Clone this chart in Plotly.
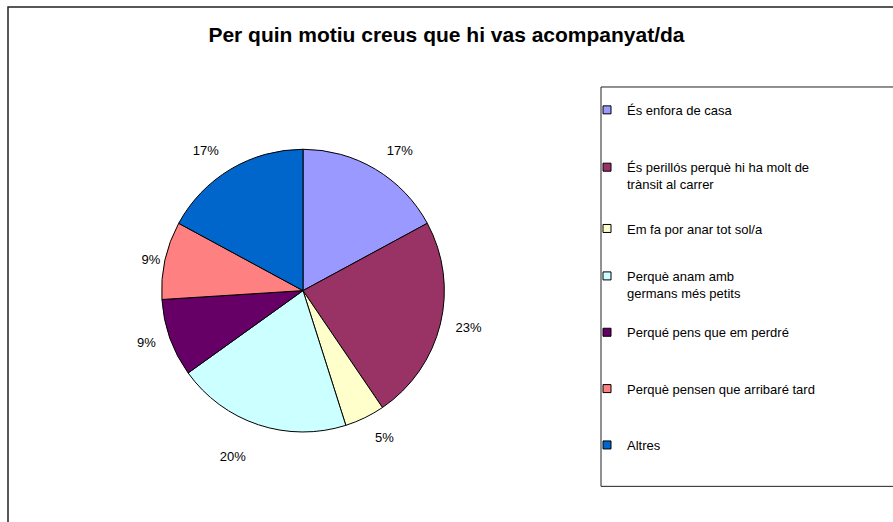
import plotly.graph_objects as go

W, H = 893, 522

title = "Per quin motiu creus que hi vas acompanyat/da"
categories = [
    "És enfora de casa",
    "És perillós perquè hi ha molt de<br>trànsit al carrer",
    "Em fa por anar tot sol/a",
    "Perquè anam amb<br>germans més petits",
    "Perqué pens que em perdré",
    "Perquè pensen que arribaré tard",
    "Altres",
]
values = [17.1, 23.4, 4.6, 20.0, 8.9, 8.9, 17.1]
colors = ["#9999FF", "#993366", "#FFFFCC", "#CCFFFF", "#660066", "#FF8080", "#0066CC"]
legend_first_line_y = [112, 170, 232, 280, 337, 394, 451]
# per-slice outward offset of the percentage labels (fraction of base label radius)
label_pull = [0.101, 0.080, 0.101, 0.185, 0.07, 0.0, 0.101]

FONT = "Liberation Sans, Arial, sans-serif"

# pie geometry (pixels)
cx, cy, r = 303, 294, 143
r_lab_base = 143.5
r_lab_dom = r_lab_base * (1 + max(label_pull))


def dom(rad):
    return dict(x=[(cx - rad) / W, (cx + rad) / W],
                y=[1 - (cy + rad) / H, 1 - (cy - rad) / H])


fig = go.Figure()

fig.add_trace(go.Pie(
    labels=categories, values=values, sort=False, direction="clockwise",
    rotation=0, marker=dict(colors=colors, line=dict(color="black", width=1)),
    textinfo="none", showlegend=False, domain=dom(r), hoverinfo="label+percent",
))

# label-only pie (transparent) to place the percentages around the pie
fig.add_trace(go.Pie(
    labels=categories, values=values, sort=False, direction="clockwise",
    rotation=0, pull=label_pull,
    marker=dict(colors=["rgba(0,0,0,0)"] * len(values), line=dict(width=0)),
    textinfo="percent", texttemplate="%{percent:.0%}", textposition="outside",
    outsidetextfont=dict(family=FONT, size=13, color="black"),
    showlegend=False, domain=dom(r_lab_dom), hoverinfo="skip",
))

layout_legends = {}
for i, (cat, col, ly) in enumerate(zip(categories, colors, legend_first_line_y)):
    name = "legend" if i == 0 else f"legend{i+1}"
    fig.add_trace(go.Scatter(
        x=[None], y=[None], mode="markers", name=cat,
        marker=dict(symbol="square", size=8, color=col, line=dict(color="black", width=1)),
        legend=name, showlegend=True, hoverinfo="skip",
    ))
    layout_legends[name] = dict(
        x=587 / W, xanchor="left", y=1 - (ly - 16) / H, yanchor="top",
        bgcolor="rgba(0,0,0,0)", borderwidth=0, valign="top",
        font=dict(family=FONT, size=13, color="black"),
        itemclick=False, itemdoubleclick=False,
    )

fig.update_layout(
    width=W, height=H,
    margin=dict(l=0, r=0, t=0, b=0),
    paper_bgcolor="white", plot_bgcolor="white",
    title=dict(text="<b>" + title + "</b>", x=0.5, xanchor="center",
               y=1 - 35 / H, yanchor="middle",
               font=dict(family=FONT, size=21, color="black")),
    xaxis=dict(visible=False), yaxis=dict(visible=False),
    showlegend=True,
    shapes=[
        dict(type="rect", xref="paper", yref="paper",
             x0=8 / W, x1=1.2, y0=-0.2, y1=1 - 7 / H,
             line=dict(color="#222222", width=1.5), fillcolor="rgba(0,0,0,0)"),
        dict(type="rect", xref="paper", yref="paper",
             x0=601 / W, x1=1.2, y0=1 - 492 / H, y1=1 - 88 / H,
             line=dict(color="#222222", width=1), fillcolor="rgba(0,0,0,0)"),
    ],
    **layout_legends,
)

post = (
    "var de=document.documentElement, b=document.body;"
    "b.style.margin='0'; b.style.padding='0';"
    "de.style.overflow='hidden'; b.style.overflow='hidden';"
    "var g=document.getElementsByClassName('plotly-graph-div')[0];"
    "if(g){g.style.position='fixed';g.style.left='0px';g.style.top='0px';"
    "g.style.overflow='hidden';}"
)

fig.write_html("out.html", config={"displayModeBar": False}, post_script=post)
